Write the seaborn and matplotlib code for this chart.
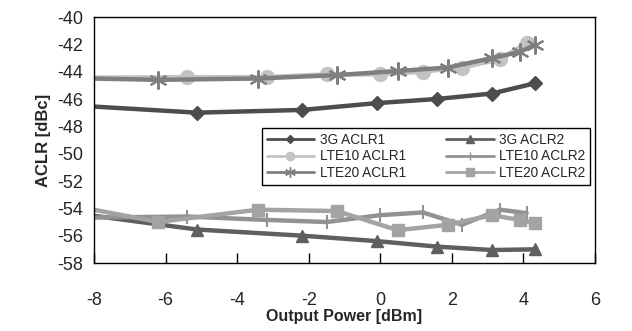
import numpy as np
import pandas as pd
import matplotlib
matplotlib.use("Agg")
import matplotlib.pyplot as plt
from matplotlib.lines import Line2D
import seaborn as sns

sns.set_style("white")
plt.rcParams['font.family'] = ['Liberation Sans', 'DejaVu Sans']
plt.rcParams['axes.unicode_minus'] = False

# ---- data (first point lies left of the visible axis; no marker drawn there) ----
x_3g = [-9.0, -5.12, -2.19, -0.09, 1.58, 3.12, 4.32]
y_3g_aclr1 = [-46.4, -47.0, -46.8, -46.3, -46.0, -45.6, -44.85]
y_3g_aclr2 = [-54.2, -55.55, -56.0, -56.4, -56.8, -57.05, -57.0]

x_lte10 = [-9.0, -5.4, -3.17, -1.49, -0.01, 1.19, 2.28, 3.34, 4.09]
y_lte10_aclr1 = [-44.45, -44.4, -44.4, -44.2, -44.2, -44.0, -43.7, -43.1, -41.9]
y_lte10_aclr2 = [-54.7, -54.6, -54.85, -55.0, -54.5, -54.3, -55.2, -54.1, -54.35]

x_lte20 = [-9.0, -6.21, -3.42, -1.21, 0.49, 1.89, 3.12, 3.9, 4.32]
y_lte20_aclr1 = [-44.45, -44.6, -44.5, -44.25, -43.95, -43.7, -43.0, -42.55, -42.05]
y_lte20_aclr2 = [-53.6, -55.0, -54.1, -54.2, -55.6, -55.2, -54.5, -54.85, -55.1]

labels = ["3G ACLR1", "LTE10 ACLR1", "LTE20 ACLR1", "3G ACLR2", "LTE10 ACLR2", "LTE20 ACLR2"]

series = [
    ("3G ACLR1", x_3g, y_3g_aclr1, "#4d4d4d", "D", 7, 1.0),
    ("3G ACLR2", x_3g, y_3g_aclr2, "#5f5f5f", "^", 9, 1.0),
    ("LTE10 ACLR1", x_lte10, y_lte10_aclr1, "#c3c3c3", "o", 10, 1.0),
    ("LTE10 ACLR2", x_lte10, y_lte10_aclr2, "#929292", "|", 10, 1.5),
    ("LTE20 ACLR2", x_lte20, y_lte20_aclr2, "#a3a3a3", "s", 9, 1.0),
    ("LTE20 ACLR1", x_lte20, y_lte20_aclr1, "#7f7f7f", (6, 2, 0), 13, 1.5),
]

fig = plt.figure(figsize=(6.32, 3.31), dpi=100)
ax = fig.add_axes([94/632, 1-263/331, (595-94)/632, (263-17)/331])

handles = {}
for name, xs, ys, col, mk, ms, mew in series:
    df = pd.DataFrame({"x": xs, "y": ys})
    sns.lineplot(data=df, x="x", y="y", ax=ax, color=col, lw=3.2,
                 marker=mk, markersize=ms, markeredgewidth=mew,
                 markeredgecolor=col, markerfacecolor=col,
                 markevery=list(range(1, len(xs))), sort=False,
                 estimator=None, legend=False)
    handles[name] = Line2D([], [], color=col, lw=2, marker=mk,
                           markersize=ms*0.6, markeredgecolor=col,
                           markerfacecolor=col, markeredgewidth=1)

ax.set_xlim(-8, 6)
ax.set_ylim(-58, -40)
ax.set_xticks(np.arange(-8, 7, 2))
ax.set_yticks(np.arange(-58, -39, 2))
ax.tick_params(axis='x', direction='in', length=7, width=1, color='black',
               pad=21, labelsize=13, bottom=True)
ax.tick_params(axis='y', length=0, pad=8, labelsize=13)
for sp in ax.spines.values():
    sp.set_color('black')
    sp.set_linewidth(1)

ax.set_xlabel("Output Power [dBm]", fontsize=11.5, fontweight='bold', labelpad=0)
ax.set_ylabel("ACLR [dBc]", fontsize=12, fontweight='bold', labelpad=4)

leg = ax.legend([handles[l] for l in labels], labels, ncol=2,
                loc='center', bbox_to_anchor=(0.335, 0.305, 0.655, 0.256),
                mode='expand', frameon=True, fancybox=False, fontsize=9.8,
                handlelength=3.5, handletextpad=0.4, columnspacing=1.5,
                labelspacing=0.2, borderpad=0.35, borderaxespad=0)
leg.get_frame().set_edgecolor('black')
leg.get_frame().set_linewidth(1)
leg.get_frame().set_alpha(1)

fig.savefig("out.png", dpi=100)
